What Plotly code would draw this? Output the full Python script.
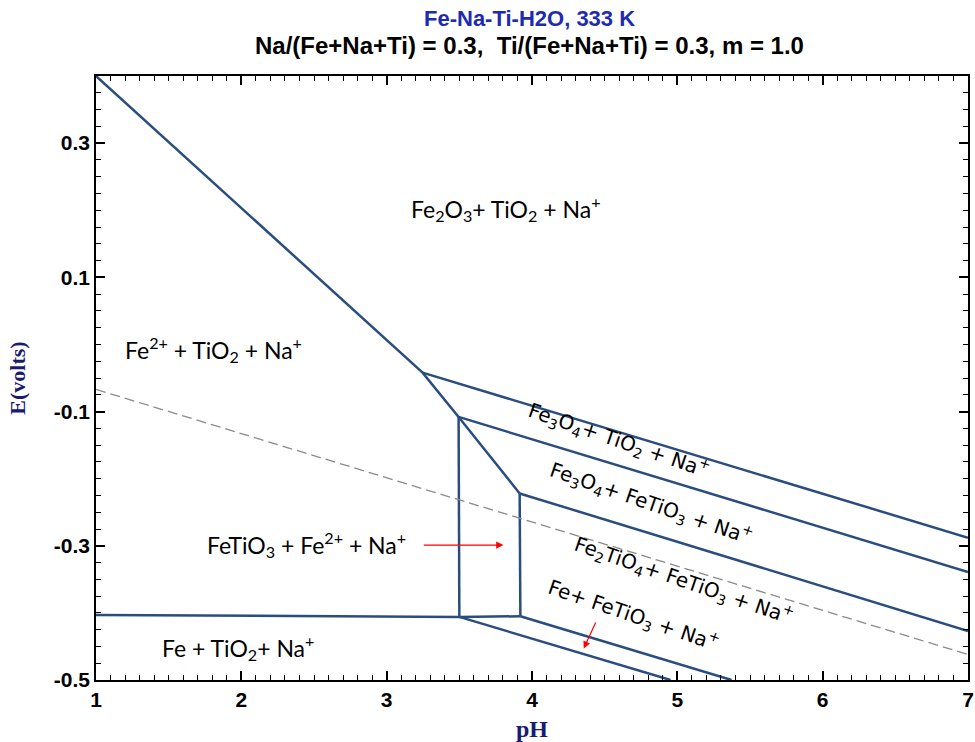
import plotly.graph_objects as go

# ---- data (pH, E in volts) ----
# boundary lines (solid)
b1_ph = [1.0, 3.247, 3.495, 3.915]          # upper left diagonal, bending at junctions
b1_e = [0.400, -0.042, -0.108, -0.222]
b2_ph = [3.247, 7.0]                         # Fe2O3 / Fe3O4 boundary
b2_e = [-0.042, -0.288]
b3_ph = [3.495, 7.0]                         # Fe3O4+TiO2 / Fe3O4+FeTiO3
b3_e = [-0.108, -0.339]
b4_ph = [3.915, 7.0]                         # Fe3O4+FeTiO3 / Fe2TiO4+FeTiO3
b4_e = [-0.222, -0.427]
v1_ph = [3.495, 3.50]                        # vertical left
v1_e = [-0.108, -0.406]
v2_ph = [3.915, 3.92]                        # vertical right
v2_e = [-0.222, -0.405]
h1_ph = [1.0, 3.50, 3.92]                    # horizontal bottom boundary
h1_e = [-0.403, -0.406, -0.405]
d1_ph = [3.50, 4.953]                        # lower diagonals
d1_e = [-0.406, -0.500]
d2_ph = [3.92, 5.373]
d2_e = [-0.405, -0.500]
# water (hydrogen) line, dashed
w_ph = [1.0, 7.0]
w_e = [-0.067, -0.462]

segments = [(b1_ph, b1_e), (b2_ph, b2_e), (b3_ph, b3_e), (b4_ph, b4_e),
            (v1_ph, v1_e), (v2_ph, v2_e), (h1_ph, h1_e), (d1_ph, d1_e), (d2_ph, d2_e)]

# region labels
flat_labels = ["Fe<sub>2</sub>O<sub>3</sub>+ TiO<sub>2</sub> + Na<sup>+</sup>",
               "Fe<sup>2+</sup> + TiO<sub>2</sub> + Na<sup>+</sup>",
               "FeTiO<sub>3</sub> + Fe<sup>2+</sup> + Na<sup>+</sup>",
               "Fe + TiO<sub>2</sub>+ Na<sup>+</sup>"]
flat_ph = [3.817, 1.806, 2.448, 1.977]
flat_e = [0.203, -0.008, -0.298, -0.452]

rot_labels = ["Fe<sub>3</sub>O<sub>4</sub>+ TiO<sub>2</sub> + Na<sup>+</sup>",
              "Fe<sub>3</sub>O<sub>4</sub>+ FeTiO<sub>3</sub> + Na<sup>+</sup>",
              "Fe<sub>2</sub>TiO<sub>4</sub>+ FeTiO<sub>3</sub> + Na<sup>+</sup>",
              "Fe+ FeTiO<sub>3</sub> + Na<sup>+</sup>"]
rot_ph = [4.60, 4.82, 5.045, 4.70]
rot_e = [-0.143, -0.237, -0.352, -0.404]

# red arrows: (tail pH, tail E, head pH, head E)
arrow_tail_ph = [3.245, 4.443]
arrow_tail_e = [-0.299, -0.412]
arrow_head_ph = [3.803, 4.356]
arrow_head_e = [-0.299, -0.453]

x_ticks = [1, 2, 3, 4, 5, 6, 7]
y_ticks = [-0.5, -0.3, -0.1, 0.1, 0.3]
y_tick_text = ["-0.5", "-0.3", "-0.1", "0.1", "0.3"]

LINE = "#2a4d80"
TICKFONT = dict(family="Liberation Sans, Arial, sans-serif", size=21, color="black", weight="bold")

fig = go.Figure()
for xs, ys in segments:
    fig.add_trace(go.Scatter(x=xs, y=ys, mode="lines",
                             line=dict(color=LINE, width=2.5),
                             showlegend=False, hoverinfo="skip"))
fig.add_trace(go.Scatter(x=w_ph, y=w_e, mode="lines",
                         line=dict(color="#8a8a8a", width=1.3, dash="10px,5px"),
                         showlegend=False, hoverinfo="skip"))

ann = []
for t, x, y in zip(flat_labels, flat_ph, flat_e):
    ann.append(dict(x=x, y=y, xref="x", yref="y", text=t, showarrow=False,
                    font=dict(family="Lato, Open Sans, sans-serif", size=23, color="black")))
for t, x, y in zip(rot_labels, rot_ph, rot_e):
    ann.append(dict(x=x, y=y, xref="x", yref="y", text=t, showarrow=False, textangle=19,
                    font=dict(family="DejaVu Sans, sans-serif", size=20, color="black")))
for tx, ty, hx, hy in zip(arrow_tail_ph, arrow_tail_e, arrow_head_ph, arrow_head_e):
    ann.append(dict(x=hx, y=hy, ax=tx, ay=ty, xref="x", yref="y", axref="x", ayref="y",
                    text="", showarrow=True, arrowhead=2, arrowsize=1.2, arrowwidth=1.2,
                    arrowcolor="red", standoff=0, startstandoff=0))

# titles
ann.append(dict(x=0.4977, y=1.0944, xref="paper", yref="paper", showarrow=False,
                yanchor="middle", xanchor="center",
                text="<b>Fe-Na-Ti-H2O, 333 K</b>",
                font=dict(family="Liberation Sans, Arial, sans-serif", size=22, color="#1e2ab0")))
ann.append(dict(x=0.4977, y=1.0497, xref="paper", yref="paper", showarrow=False,
                yanchor="middle", xanchor="center",
                text="<b>Na/(Fe+Na+Ti) = 0.3,  Ti/(Fe+Na+Ti) = 0.3, m = 1.0</b>",
                font=dict(family="Liberation Sans, Arial, sans-serif", size=24, color="black")))

fig.update_layout(
    width=975, height=742,
    margin=dict(l=96, r=7, t=76, b=62, autoexpand=False),
    plot_bgcolor="white", paper_bgcolor="white",
    annotations=ann,
    showlegend=False,
    xaxis2=dict(overlaying="x", side="top", range=[1, 7], tickvals=x_ticks,
                showticklabels=False, showgrid=False, zeroline=False, automargin=False,
                ticks="inside", ticklen=9, tickwidth=1.5, tickcolor="black",
                minor=dict(ticks="inside", dtick=0.1, ticklen=5, tickwidth=1,
                           tickcolor="black", showgrid=False)),
    yaxis2=dict(overlaying="y", side="right", range=[-0.5, 0.4], tickvals=y_ticks,
                showticklabels=False, showgrid=False, zeroline=False, automargin=False,
                ticks="inside", ticklen=9, tickwidth=1.5, tickcolor="black",
                minor=dict(ticks="inside", dtick=0.025, tick0=-0.5, ticklen=5, tickwidth=1,
                           tickcolor="black", showgrid=False)),
)
fig.layout.xaxis.update(
    range=[1, 7], tickvals=x_ticks, ticktext=[str(v) for v in x_ticks],
    showgrid=False, zeroline=False, automargin=False,
    showline=True, linecolor="black", linewidth=1.5, mirror=True,
    ticks="inside", ticklen=9, tickwidth=1.5, tickcolor="black",
    minor=dict(ticks="inside", dtick=0.1, ticklen=5, tickwidth=1, tickcolor="black", showgrid=False),
    tickfont=TICKFONT,
    title=dict(text="<b>pH</b>", standoff=12,
               font=dict(family="Liberation Serif, Times New Roman, serif", size=24, color="#1a1a70")),
)
fig.layout.yaxis.update(
    range=[-0.5, 0.4], tickvals=y_ticks, ticktext=y_tick_text,
    showgrid=False, zeroline=False, automargin=False,
    showline=True, linecolor="black", linewidth=1.5, mirror=True,
    ticks="inside", ticklen=9, tickwidth=1.5, tickcolor="black",
    minor=dict(ticks="inside", dtick=0.025, tick0=-0.5, ticklen=5, tickwidth=1, tickcolor="black", showgrid=False),
    tickfont=TICKFONT,
    title=dict(text="<b>E(volts)</b>", standoff=22,
               font=dict(family="Liberation Serif, Times New Roman, serif", size=22, color="#1a1a70")),
)
# invisible trace so the overlay axes are drawn
fig.add_trace(go.Scatter(x=[None], y=[None], xaxis="x2", yaxis="y2", showlegend=False,
                         hoverinfo="skip"))

fig.write_html("out.html")
